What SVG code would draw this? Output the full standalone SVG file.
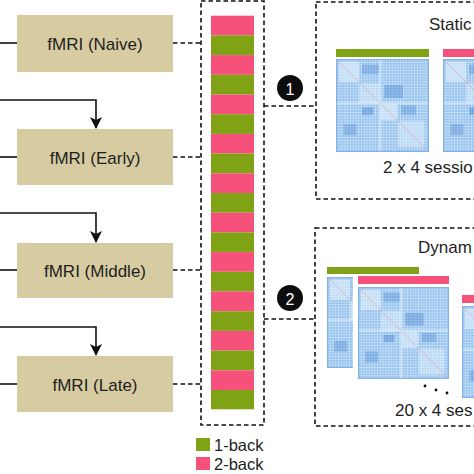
<svg xmlns="http://www.w3.org/2000/svg" width="474" height="474" viewBox="0 0 474 474">
<style>
.node{fill:#D6CBA1}
.lbl{font-family:"Liberation Sans",Arial,sans-serif;font-size:17px;fill:#1e1e1e;text-anchor:middle;dominant-baseline:central}
.txt{font-family:"Liberation Sans",Arial,sans-serif;font-size:17px;fill:#1e1e1e;dominant-baseline:central}
.leg{font-family:"Liberation Sans",Arial,sans-serif;font-size:16.5px;fill:#1e1e1e;dominant-baseline:central}
.num{font-family:"Liberation Sans",Arial,sans-serif;font-size:16px;fill:#fff;text-anchor:middle;dominant-baseline:central}
.solid{fill:none;stroke:#111;stroke-width:1.6}
.dash{fill:none;stroke:#111;stroke-width:1.6;stroke-dasharray:4.5 3}
.g{fill:#80A315}
.p{fill:#F5517A}
</style>
<defs>
<marker id="ah" viewBox="0 0 12 12" refX="11" refY="6" markerWidth="12" markerHeight="12" markerUnits="userSpaceOnUse" orient="auto">
<path d="M0,0 L12,6 L0,12 L3,6 Z" fill="#111"/>
</marker>
<pattern id="grid" width="3" height="3" patternUnits="userSpaceOnUse">
<rect width="3" height="3" fill="#93C0EC"/>
<path d="M0,0.5H3M0.5,0V3" stroke="#CFE5F9" stroke-width="0.7"/>
</pattern>
<symbol id="mx" viewBox="0 0 100 100" preserveAspectRatio="none">
<rect width="100" height="100" fill="url(#grid)"/>
<rect x="3" y="3" width="22" height="22" fill="#E2F0FC" opacity="0.6"/>
<rect x="25" y="26" width="22" height="22" fill="#E2F0FC" opacity="0.5"/>
<rect x="48" y="48" width="18" height="18" fill="#E2F0FC" opacity="0.6"/>
<rect x="67" y="67" width="28" height="28" fill="#E2F0FC" opacity="0.5"/>
<rect x="28" y="6" width="18" height="10" fill="#3E7ACB" opacity="0.3"/>
<rect x="52" y="28" width="20" height="14" fill="#3E7ACB" opacity="0.35"/>
<rect x="28" y="52" width="12" height="8" fill="#3E7ACB" opacity="0.4"/>
<rect x="70" y="50" width="16" height="10" fill="#3E7ACB" opacity="0.3"/>
<rect x="8" y="70" width="14" height="12" fill="#3E7ACB" opacity="0.3"/>
<rect x="0" y="46" width="100" height="3" fill="#E2F0FC" opacity="0.5"/>
<rect x="46" y="0" width="3" height="100" fill="#E2F0FC" opacity="0.5"/>
<path d="M2,2L98,98" stroke="#D98C9E" stroke-width="1" opacity="0.5"/>
<rect x="0.5" y="0.5" width="99" height="99" fill="none" stroke="#7FAEE0" stroke-width="1"/>
</symbol>
</defs>

<g id="connectors">
<path class="solid" d="M0,43H17"/>
<path class="solid" d="M0,157H17"/>
<path class="solid" d="M0,270H17"/>
<path class="solid" d="M0,384H17"/>
<path class="solid" d="M0,100H96V128" marker-end="url(#ah)"/>
<path class="solid" d="M0,213H96V242" marker-end="url(#ah)"/>
<path class="solid" d="M0,327H96V355" marker-end="url(#ah)"/>
<path class="dash" d="M173,43H201"/>
<path class="dash" d="M173,157H201"/>
<path class="dash" d="M173,270H201"/>
<path class="dash" d="M173,384H201"/>
<path class="dash" d="M264,106H315"/>
<path class="dash" d="M264,319H315"/>
</g>

<g id="naive"><rect class="node" x="17" y="15" width="156" height="57"/><text class="lbl" x="95" y="44">fMRI (Naive)</text></g>
<g id="early"><rect class="node" x="17" y="129" width="156" height="56"/><text class="lbl" x="95" y="158">fMRI (Early)</text></g>
<g id="middle"><rect class="node" x="17" y="243" width="156" height="55"/><text class="lbl" x="95" y="271">fMRI (Middle)</text></g>
<g id="late"><rect class="node" x="17" y="356" width="156" height="56"/><text class="lbl" x="95" y="385">fMRI (Late)</text></g>

<g id="sessions">
<rect class="dash" x="201" y="1" width="63" height="424"/>
<rect class="p" x="211" y="15.7" width="43" height="19.7"/>
<rect class="g" x="211" y="35.4" width="43" height="19.7"/>
<rect class="p" x="211" y="55.1" width="43" height="19.7"/>
<rect class="g" x="211" y="74.8" width="43" height="19.7"/>
<rect class="p" x="211" y="94.5" width="43" height="19.7"/>
<rect class="g" x="211" y="114.2" width="43" height="19.7"/>
<rect class="p" x="211" y="133.9" width="43" height="19.7"/>
<rect class="g" x="211" y="153.6" width="43" height="19.7"/>
<rect class="p" x="211" y="173.3" width="43" height="19.7"/>
<rect class="g" x="211" y="193" width="43" height="19.7"/>
<rect class="p" x="211" y="212.7" width="43" height="19.7"/>
<rect class="g" x="211" y="232.4" width="43" height="19.7"/>
<rect class="p" x="211" y="252.1" width="43" height="19.7"/>
<rect class="g" x="211" y="271.8" width="43" height="19.7"/>
<rect class="p" x="211" y="291.5" width="43" height="19.7"/>
<rect class="g" x="211" y="311.2" width="43" height="19.7"/>
<rect class="p" x="211" y="330.9" width="43" height="19.7"/>
<rect class="g" x="211" y="350.6" width="43" height="19.7"/>
<rect class="p" x="211" y="370.3" width="43" height="19.7"/>
<rect class="g" x="211" y="390" width="43" height="19.3"/>
</g>

<g id="legend">
<rect class="g" x="196" y="438" width="14" height="13"/>
<text class="leg" x="214" y="445">1-back</text>
<rect class="p" x="196" y="457" width="14" height="13"/>
<text class="leg" x="214" y="464">2-back</text>
</g>

<g id="badge1"><circle cx="290" cy="88" r="13" fill="#0d0d0d"/><text class="num" x="290" y="89">1</text></g>
<g id="badge2"><circle cx="290" cy="298" r="13" fill="#0d0d0d"/><text class="num" x="290" y="299">2</text></g>

<g id="static">
<rect class="dash" x="316" y="2" width="170" height="197"/>
<text class="txt" x="429" y="24">Static</text>
<rect class="g" x="336" y="49" width="93" height="8"/>
<use href="#mx" x="336" y="59" width="93" height="93"/>
<rect class="p" x="443" y="49" width="40" height="8"/>
<use href="#mx" x="443" y="59" width="93" height="93"/>
<text class="txt" x="383" y="167">2 x 4 sessio</text>
</g>

<g id="dynamic">
<rect class="dash" x="315" y="228" width="170" height="198"/>
<text class="txt" x="418" y="247" font-size="16">Dynam</text>
<rect class="g" x="327" y="267" width="92" height="7"/>
<use href="#mx" x="327" y="277" width="92" height="91"/>
<rect x="353" y="275" width="100" height="110" fill="#fff"/>
<rect class="p" x="358" y="276" width="91" height="8"/>
<use href="#mx" x="358" y="287" width="91" height="92"/>
<rect x="457" y="293" width="30" height="110" fill="#fff"/>
<rect class="p" x="462" y="295" width="30" height="8"/>
<use href="#mx" x="462" y="306" width="92" height="92"/>
<circle cx="425" cy="386" r="1.4" fill="#111"/>
<circle cx="436" cy="390" r="1.4" fill="#111"/>
<circle cx="447" cy="393" r="1.4" fill="#111"/>
<text class="txt" x="395" y="410">20 x 4 ses</text>
</g>
</svg>
